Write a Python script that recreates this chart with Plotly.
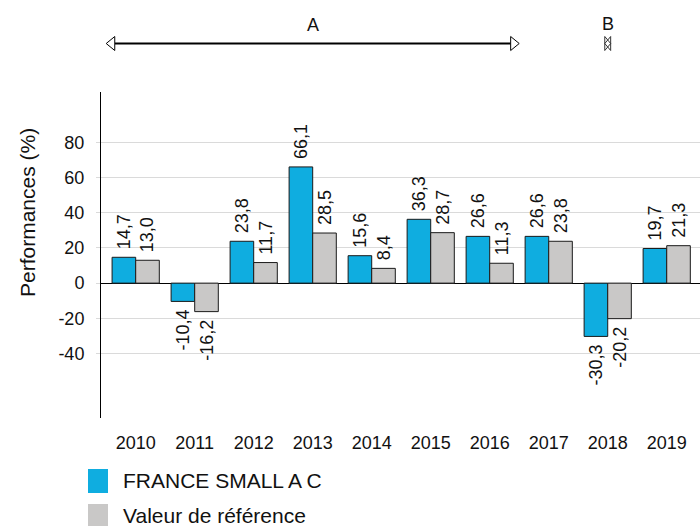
import plotly.graph_objects as go

years = ["2010", "2011", "2012", "2013", "2014", "2015", "2016", "2017", "2018", "2019"]
fund = [14.7, -10.4, 23.8, 66.1, 15.6, 36.3, 26.6, 26.6, -30.3, 19.7]
bench = [13.0, -16.2, 11.7, 28.5, 8.4, 28.7, 11.3, 23.8, -20.2, 21.3]
series_names = ["FRANCE SMALL A C", "Valeur de référence"]
series_colors = ["#0FADE0", "#C9C8C7"]
y_ticks = [-40, -20, 0, 20, 40, 60, 80]
y_tick_labels = ["-40", "-20", "0", "20", "40", "60", "80"]
periods = [("A", 0, 6), ("B", 8, 8)]  # label, first year index, last year index

FONT = "Liberation Sans, Arial, sans-serif"
TXT = "#111111"

def fmt(v):
    s = f"{v:.1f}".replace(".", ",")
    return "\u00a0" + s if v >= 0 else s + "\u00a0"

xs = list(range(len(years)))
fig = go.Figure()
for vals, name, col in zip([fund, bench], series_names, series_colors):
    fig.add_trace(go.Bar(
        x=xs, y=vals, name=name,
        marker=dict(color=col, line=dict(color="#1a1a1a", width=1)),
        text=[fmt(v) for v in vals], textposition="outside", textangle=-90,
        textfont=dict(family=FONT, size=18, color=TXT),
        cliponaxis=False, constraintext="none", showlegend=False, hoverinfo="skip",
    ))

L, R, T, B = 101, 700, 92, 418
W, H = R - L, B - T
def px(p):
    return (p - L) / W
def py(p):
    return (B - p) / H

shapes = []
annotations = []
# period arrows
ay = py(43.5)
hh = 7 / H
ah = 0.145  # arrowhead length in category units
for lab, i0, i1 in periods:
    x0, x1 = i0 - 0.5, i1 + 0.5
    if i0 == i1:
        x0 = x1 = i0
        w = 0.05
        shapes.append(dict(type="path", xref="x", yref="paper",
                           path=f"M {x0-w},{ay} L {x0+w},{ay+hh} L {x0+w},{ay-hh} Z",
                           fillcolor="white", line=dict(color="#333", width=1)))
        shapes.append(dict(type="path", xref="x", yref="paper",
                           path=f"M {x0+w},{ay} L {x0-w},{ay+hh} L {x0-w},{ay-hh} Z",
                           fillcolor="rgba(0,0,0,0)", line=dict(color="#333", width=1)))
        ty = py(23.5)
    else:
        shapes.append(dict(type="line", xref="x", yref="paper", x0=x0 + ah, x1=x1 - ah,
                           y0=ay, y1=ay, line=dict(color="black", width=2)))
        shapes.append(dict(type="path", xref="x", yref="paper",
                           path=f"M {x0},{ay} L {x0+ah},{ay+hh} L {x0+ah},{ay-hh} Z",
                           fillcolor="white", line=dict(color="black", width=1)))
        shapes.append(dict(type="path", xref="x", yref="paper",
                           path=f"M {x1},{ay} L {x1-ah},{ay+hh} L {x1-ah},{ay-hh} Z",
                           fillcolor="white", line=dict(color="black", width=1)))
        ty = py(25)
    annotations.append(dict(text=lab, x=(x0 + x1) / 2, y=ty, xref="x", yref="paper",
                            showarrow=False, xanchor="center", yanchor="middle",
                            font=dict(family=FONT, size=18, color=TXT)))

# manual legend
for k, (name, col) in enumerate(zip(series_names, series_colors)):
    y0p, y1p = 469 + 35 * k, 493 + 35 * k
    shapes.append(dict(type="rect", xref="paper", yref="paper",
                       x0=px(88), x1=px(108), y0=py(y1p), y1=py(y0p),
                       fillcolor=col, line=dict(width=0)))
    annotations.append(dict(text=name, x=px(121), y=py((y0p + y1p) / 2 - 1), xref="paper", yref="paper",
                            showarrow=False, xanchor="left", yanchor="middle",
                            font=dict(family=FONT, size=21, color=TXT)))

# y-axis title
annotations.append(dict(text="Performances (%)", x=px(27), y=py(213), xref="paper", yref="paper",
                        showarrow=False, textangle=-90, xanchor="center", yanchor="middle",
                        font=dict(family=FONT, size=21, color=TXT)))

fig.update_layout(
    width=700, height=526,
    margin=dict(l=L, r=700 - R, t=T, b=526 - B, pad=0),
    paper_bgcolor="white", plot_bgcolor="white",
    barmode="group", bargap=0.2, bargroupgap=0,
    font=dict(family=FONT, size=18, color=TXT),
    shapes=shapes, annotations=annotations, hovermode=False,
    xaxis=dict(range=[-0.588, 9.564], tickvals=xs, ticktext=years, showgrid=False,
               zeroline=False, showline=False, ticks="", ticklabelstandoff=12,
               tickfont=dict(family=FONT, size=18, color=TXT)),
    yaxis=dict(range=[-76.7, 108.7], tickvals=y_ticks, ticktext=y_tick_labels,
               showgrid=True, gridcolor="#DADADA",
               gridwidth=1, zeroline=True, zerolinecolor="black", zerolinewidth=1,
               showline=True, linecolor="black", linewidth=1,
               ticks="outside", ticklen=4, tickcolor="#DADADA", ticklabelstandoff=8,
               tickfont=dict(family=FONT, size=18, color=TXT)),
)

fig.write_html("out.html", config={"displayModeBar": False, "staticPlot": True},
               post_script="document.body.style.margin='0';document.body.style.overflow='hidden';")
